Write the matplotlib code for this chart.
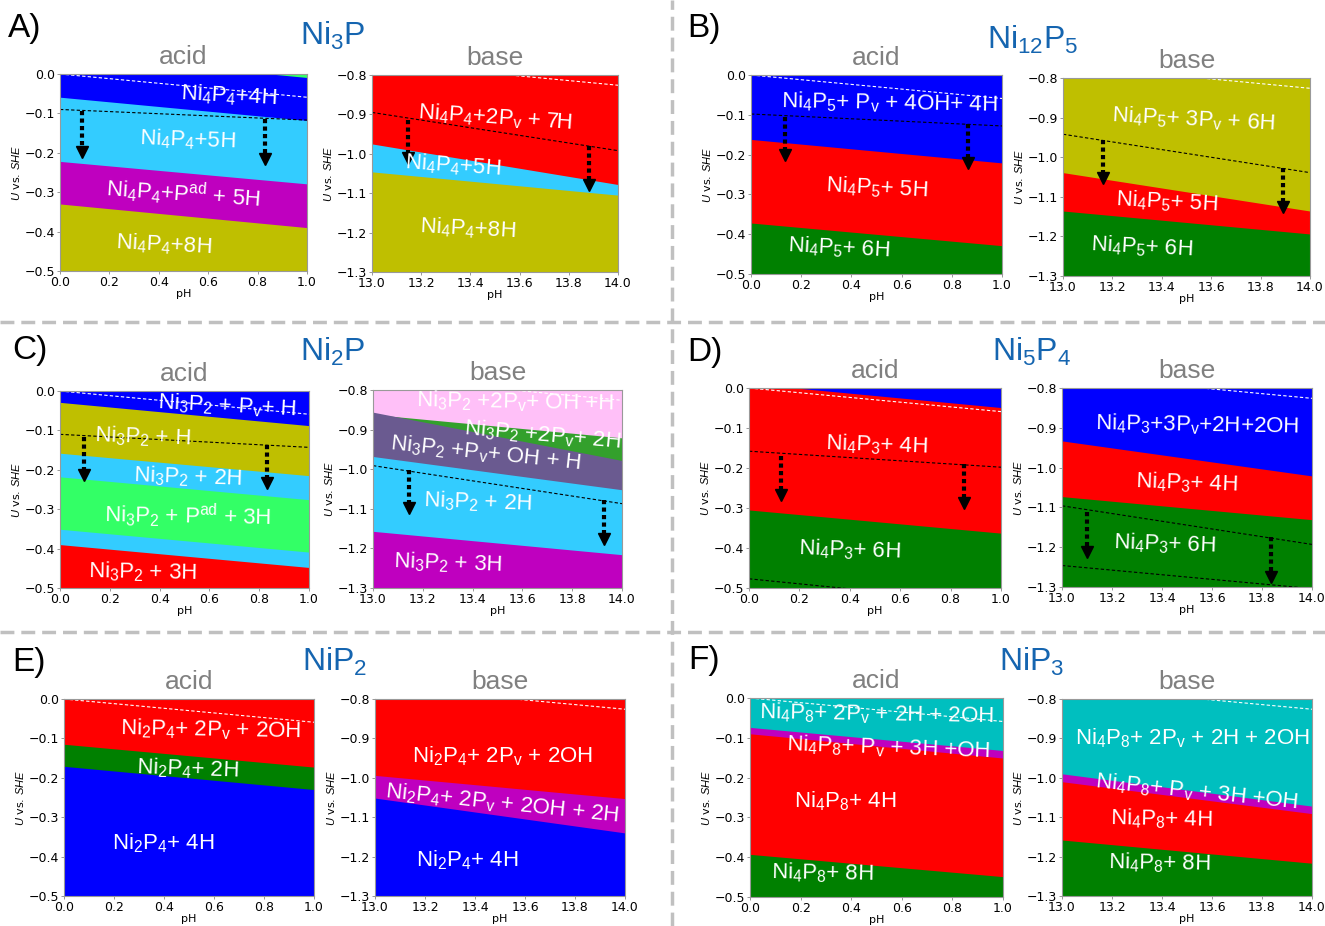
import numpy as np
import matplotlib
matplotlib.use('Agg')
import matplotlib.pyplot as plt
from matplotlib.lines import Line2D

plt.rcParams['mathtext.fontset'] = 'custom'
plt.rcParams['mathtext.rm'] = 'Liberation Sans'
plt.rcParams['mathtext.it'] = 'Liberation Sans:italic'
plt.rcParams['mathtext.bf'] = 'Liberation Sans:bold'

# pH and potential ranges
acid_ph = [0.0, 1.0]
base_ph = [13.0, 14.0]
acid_u = [-0.5, 0.0]
base_u = [-1.3, -0.8]

# white dashed reference line (U at left / right pH)
ref_acid = [0.0, -0.059]
ref_base = [-0.767, -0.826]

# region colours
BLUE, RED, GREEN = '#0000ff', '#ff0000', '#008000'
CYAN, LGREEN, OLIVE = '#33ccff', '#33ff66', '#bfbf00'
MAG, TEAL, PINK = '#bf00bf', '#00bfbf', '#ffc0f8'
PURPLE, MGREEN = '#6a5a90', '#33a02c'

# ---------------- A) Ni3P ----------------
a_acid_edges = [(0.05, -0.01), (-0.060, -0.119), (-0.223, -0.280), (-0.331, -0.391)]
a_acid_colors = [LGREEN, BLUE, CYAN, MAG, OLIVE]
a_acid_dashed = [(-0.090, -0.117)]
a_acid_arrows = [(0.088, -0.094, -0.197), (0.829, -0.113, -0.217)]
a_acid_labels = ['Ni$_4$P$_4$+4H', 'Ni$_4$P$_4$+5H',
                 'Ni$_4$P$_4$+P$^\\mathrm{ad}$ + 5H', 'Ni$_4$P$_4$+8H']
a_acid_lpos = [(0.684, -0.056, -3), (0.518, -0.168, -2), (0.498, -0.302, -4), (0.421, -0.434, -3)]

a_base_edges = [(-0.976, -1.079), (-1.047, -1.106)]
a_base_colors = [RED, CYAN, OLIVE]
a_base_dashed = [(-0.895, -0.992)]
a_base_arrows = [(13.145, -0.914, -1.011), (13.883, -0.980, -1.079)]
a_base_labels = ['Ni$_4$P$_4$+2P$_\\mathrm{v}$ + 7H', 'Ni$_4$P$_4$+5H', 'Ni$_4$P$_4$+8H']
a_base_lpos = [(13.5, -0.909, -4), (13.33, -1.031, -4), (13.39, -1.191, -3)]

# ---------------- B) Ni12P5 ----------------
b_acid_edges = [(-0.163, -0.222), (-0.373, -0.430)]
b_acid_colors = [BLUE, RED, GREEN]
b_acid_dashed = [(-0.098, -0.128)]
b_acid_arrows = [(0.134, -0.105, -0.201), (0.863, -0.123, -0.222)]
b_acid_labels = ['Ni$_4$P$_5$+ P$_\\mathrm{v}$ + 4OH+ 4H', 'Ni$_4$P$_5$+ 5H', 'Ni$_4$P$_5$+ 6H']
b_acid_lpos = [(0.55, -0.070, -1), (0.50, -0.284, -3), (0.35, -0.435, -3)]

b_base_edges = [(-1.040, -1.137), (-1.137, -1.195)]
b_base_colors = [OLIVE, RED, GREEN]
b_base_dashed = [(-0.942, -1.039)]
b_base_arrows = [(13.160, -0.956, -1.053), (13.892, -1.028, -1.125)]
b_base_labels = ['Ni$_4$P$_5$+ 3P$_\\mathrm{v}$ + 6H', 'Ni$_4$P$_5$+ 5H', 'Ni$_4$P$_5$+ 6H']
b_base_lpos = [(13.526, -0.906, -3), (13.42, -1.113, -3), (13.32, -1.227, -3)]

# ---------------- C) Ni2P ----------------
c_acid_edges = [(-0.030, -0.089), (-0.159, -0.216), (-0.219, -0.277),
                (-0.352, -0.410), (-0.391, -0.449)]
c_acid_colors = [BLUE, OLIVE, CYAN, LGREEN, CYAN, RED]
c_acid_dashed = [(-0.110, -0.143)]
c_acid_arrows = [(0.096, -0.116, -0.213), (0.833, -0.136, -0.234)]
c_acid_labels = ['Ni$_3$P$_2$ + P$_\\mathrm{v}$+ H', 'Ni$_3$P$_2$ + H', 'Ni$_3$P$_2$ + 2H',
                 'Ni$_3$P$_2$ + P$^\\mathrm{ad}$ + 3H', 'Ni$_3$P$_2$ + 3H']
c_acid_lpos = [(0.67, -0.038, -3), (0.333, -0.117, -2), (0.514, -0.218, -2),
               (0.514, -0.315, -1), (0.333, -0.459, -1)]

c_base_edges = [(-0.863, -0.922), (-0.857, -0.979), (-0.969, -1.053), (-1.158, -1.217)]
c_base_colors = [PINK, MGREEN, PURPLE, CYAN, MAG]
c_base_dashed = [(-0.991, -1.087)]
c_base_arrows = [(13.145, -1.002, -1.099), (13.928, -1.078, -1.177)]
c_base_labels = ['Ni$_3$P$_2$ +2P$_\\mathrm{v}$+ OH +H', 'Ni$_3$P$_2$ +2P$_\\mathrm{v}$+ 2H',
                 'Ni$_3$P$_2$ +P$_\\mathrm{v}$+ OH + H', 'Ni$_3$P$_2$ + 2H', 'Ni$_3$P$_2$ + 3H']
c_base_lpos = [(13.57, -0.830, -1), (13.68, -0.914, -5), (13.45, -0.959, -6),
               (13.42, -1.083, -2), (13.30, -1.237, -2)]

# ---------------- D) Ni5P4 ----------------
d_acid_edges = [(0.010, -0.050), (-0.306, -0.364)]
d_acid_colors = [BLUE, RED, GREEN]
d_acid_dashed = [(-0.158, -0.198), (-0.477, -0.540)]
d_acid_arrows = [(0.126, -0.171, -0.268), (0.853, -0.189, -0.288)]
d_acid_labels = ['Ni$_4$P$_3$+ 4H', 'Ni$_4$P$_3$+ 6H']
d_acid_lpos = [(0.508, -0.143, -2), (0.40, -0.405, -2)]

d_base_edges = [(-0.934, -1.022), (-1.074, -1.132)]
d_base_colors = [BLUE, RED, GREEN]
d_base_dashed = [(-1.096, -1.193), (-1.246, -1.304)]
d_base_arrows = [(13.10, -1.112, -1.212), (13.836, -1.174, -1.275)]
d_base_labels = ['Ni$_4$P$_3$+3P$_\\mathrm{v}$+2H+2OH', 'Ni$_4$P$_3$+ 4H', 'Ni$_4$P$_3$+ 6H']
d_base_lpos = [(13.54, -0.893, -1), (13.50, -1.039, -2), (13.41, -1.192, -2)]

# ---------------- E) NiP2 ----------------
e_acid_edges = [(-0.116, -0.174), (-0.172, -0.231)]
e_acid_colors = [RED, GREEN, BLUE]
e_acid_labels = ['Ni$_2$P$_4$+ 2P$_\\mathrm{v}$ + 2OH', 'Ni$_2$P$_4$+ 2H', 'Ni$_2$P$_4$+ 4H']
e_acid_lpos = [(0.588, -0.078, -1), (0.496, -0.178, -2), (0.396, -0.367, 0)]

e_base_edges = [(-0.995, -1.054), (-1.0525, -1.141)]
e_base_colors = [RED, MAG, BLUE]
e_base_labels = ['Ni$_2$P$_4$+ 2P$_\\mathrm{v}$ + 2OH', 'Ni$_2$P$_4$+ 2P$_\\mathrm{v}$ + 2OH + 2H',
                 'Ni$_2$P$_4$+ 4H']
e_base_lpos = [(13.51, -0.946, 0), (13.51, -1.066, -6), (13.37, -1.21, 0)]

# ---------------- F) NiP3 ----------------
f_acid_edges = [(-0.075, -0.133), (-0.091, -0.152), (-0.394, -0.450)]
f_acid_colors = [TEAL, MAG, RED, GREEN]
f_labels = ['Ni$_4$P$_8$+ 2P$_\\mathrm{v}$ + 2H + 2OH', 'Ni$_4$P$_8$+ P$_\\mathrm{v}$ + 3H +OH',
            'Ni$_4$P$_8$+ 4H', 'Ni$_4$P$_8$+ 8H']
f_acid_lpos = [(0.502, -0.042, -1), (0.545, -0.124, -2), (0.375, -0.259, 0), (0.285, -0.440, -1)]

f_base_edges = [(-0.991, -1.073), (-1.011, -1.092), (-1.159, -1.218)]
f_base_colors = [TEAL, MAG, RED, GREEN]
f_base_lpos = [(13.52, -0.90, 0), (13.54, -1.036, -6), (13.40, -1.104, -1), (13.39, -1.217, -1)]

# figure layout (pixels: left, top, right, bottom)
W, H = 1325, 926
fig = plt.figure(figsize=(W / 100, H / 100), dpi=100)


def draw_panel(box, side, edges, colors, dashed, arrows, labels, lpos):
    l, t, r, b = box
    ax = fig.add_axes([l / W, 1 - b / H, (r - l) / W, (b - t) / H])
    ph = acid_ph if side == 'acid' else base_ph
    ulim = acid_u if side == 'acid' else base_u
    ref = ref_acid if side == 'acid' else ref_base
    # paint regions top to bottom, each one below its upper boundary
    ax.fill_between(ph, 5, -5, color=colors[0], lw=0)
    for edge, c in zip(edges, colors[1:]):
        ax.fill_between(ph, edge, -5, color=c, lw=0)
    ax.plot(ph, ref, color='white', ls=(0, (3, 2)), lw=0.8)
    for d in dashed:
        ax.plot(ph, d, color='k', ls=(0, (3, 2)), lw=0.8)
    for x, y0, y1 in arrows:
        ax.plot([x, x], [y0, y1], color='k', lw=3, ls=(0, (1, 0.8)))
        ax.plot(x, y1, marker='v', ms=9, color='k')
    for txt, (x, y, rot) in zip(labels, lpos):
        ax.text(x, y, txt, color='white', fontsize=16, ha='center', va='center',
                rotation=rot, family='Liberation Sans')
    ax.set_xlim(ph)
    ax.set_ylim(ulim)
    ax.set_title(side, fontsize=19, color='#808080', pad=7, family='Liberation Sans')
    ax.set_xlabel('pH', fontsize=8, labelpad=0)
    ax.set_ylabel('$U$ vs. $SHE$', fontsize=8, labelpad=2)
    ax.tick_params(labelsize=9, length=2, width=0.6, color='#888888', pad=1.5)
    for s in ax.spines.values():
        s.set_color('#999999')
    return ax


draw_panel((60, 74, 307, 271), 'acid', a_acid_edges, a_acid_colors, a_acid_dashed,
           a_acid_arrows, a_acid_labels, a_acid_lpos)
draw_panel((372, 75, 618, 272), 'base', a_base_edges, a_base_colors, a_base_dashed,
           a_base_arrows, a_base_labels, a_base_lpos)
draw_panel((751, 75, 1002, 274), 'acid', b_acid_edges, b_acid_colors, b_acid_dashed,
           b_acid_arrows, b_acid_labels, b_acid_lpos)
draw_panel((1063, 78, 1310, 276), 'base', b_base_edges, b_base_colors, b_base_dashed,
           b_base_arrows, b_base_labels, b_base_lpos)
draw_panel((60, 391, 309, 588), 'acid', c_acid_edges, c_acid_colors, c_acid_dashed,
           c_acid_arrows, c_acid_labels, c_acid_lpos)
draw_panel((373, 390, 622, 588), 'base', c_base_edges, c_base_colors, c_base_dashed,
           c_base_arrows, c_base_labels, c_base_lpos)
draw_panel((749, 388, 1001, 588), 'acid', d_acid_edges, d_acid_colors, d_acid_dashed,
           d_acid_arrows, d_acid_labels, d_acid_lpos)
draw_panel((1062, 388, 1312, 587), 'base', d_base_edges, d_base_colors, d_base_dashed,
           d_base_arrows, d_base_labels, d_base_lpos)
draw_panel((64, 699, 314, 896), 'acid', e_acid_edges, e_acid_colors, [], [],
           e_acid_labels, e_acid_lpos)
draw_panel((375, 699, 625, 896), 'base', e_base_edges, e_base_colors, [], [],
           e_base_labels, e_base_lpos)
draw_panel((750, 698, 1003, 897), 'acid', f_acid_edges, f_acid_colors, [], [],
           f_labels, f_acid_lpos)
draw_panel((1062, 699, 1312, 896), 'base', f_base_edges, f_base_colors, [], [],
           f_labels, f_base_lpos)

# panel letters and compound names
letters = [('A)', 8, 29), ('B)', 687, 28), ('C)', 12, 350),
           ('D)', 687, 352), ('E)', 12, 662), ('F)', 688, 660)]
for s, x, y in letters:
    fig.text(x / W, 1 - y / H, s, fontsize=24, family='Liberation Sans',
             ha='left', va='center')

compounds = [('Ni$_3$P', 333, 36), ('Ni$_{12}$P$_5$', 1033, 40), ('Ni$_2$P', 333, 352),
             ('Ni$_5$P$_4$', 1032, 352), ('NiP$_2$', 335, 662), ('NiP$_3$', 1032, 662)]
for s, x, y in compounds:
    fig.text(x / W, 1 - y / H, s, fontsize=23, family='Liberation Sans',
             color='#1565b0', ha='center', va='center')

# grey dashed separators
sep = dict(color='#c0c0c0', lw=2.5, ls=(0, (4, 2)))
fig.add_artist(Line2D([672 / W, 672 / W], [0, 1], **sep))
fig.add_artist(Line2D([0, 1], [1 - 322 / H, 1 - 322 / H], **sep))
fig.add_artist(Line2D([0, 1], [1 - 632 / H, 1 - 632 / H], **sep))

fig.savefig('out.png', dpi=100)
